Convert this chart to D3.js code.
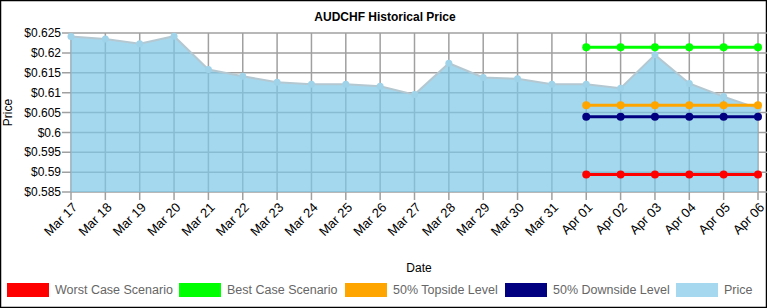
<!DOCTYPE html>
<html>
<head>
<meta charset="utf-8">
<script src="https://cdn.jsdelivr.net/npm/d3@7"></script>
<style>
  body { margin: 0; background: #fff; }
  svg { display: block; font-family: Arial, "Liberation Sans", sans-serif; }
</style>
</head>
<body>
<div id="chart"></div>
<script>
// data
const dates = ["Mar 17", "Mar 18", "Mar 19", "Mar 20", "Mar 21", "Mar 22", "Mar 23", "Mar 24",
               "Mar 25", "Mar 26", "Mar 27", "Mar 28", "Mar 29", "Mar 30", "Mar 31",
               "Apr 01", "Apr 02", "Apr 03", "Apr 04", "Apr 05", "Apr 06"];
const price = [0.6241, 0.6235, 0.6223, 0.6242, 0.6158, 0.6141, 0.6126, 0.6121,
               0.6121, 0.6116, 0.6095, 0.6174, 0.6138, 0.6135, 0.6121,
               0.6121, 0.6111, 0.6195, 0.6123, 0.6090, 0.6060];
const levelDates = ["Apr 01", "Apr 02", "Apr 03", "Apr 04", "Apr 05", "Apr 06"];
const worstCase = [0.5894, 0.5894, 0.5894, 0.5894, 0.5894, 0.5894];
const bestCase = [0.6214, 0.6214, 0.6214, 0.6214, 0.6214, 0.6214];
const topside = [0.6068, 0.6068, 0.6068, 0.6068, 0.6068, 0.6068];
const downside = [0.6039, 0.6039, 0.6039, 0.6039, 0.6039, 0.6039];
const yTicks = [0.585, 0.59, 0.595, 0.6, 0.605, 0.61, 0.615, 0.62, 0.625];

const W = 767, H = 308;
const margin = {top: 33, left: 71, right: 9, bottom: 116};
const width = W - margin.left - margin.right;
const height = H - margin.top - margin.bottom;

const svg = d3.select("#chart").append("svg")
  .attr("width", W).attr("height", H);

// outer frame
svg.append("rect")
  .attr("x", 0.5).attr("y", 0.5).attr("width", W - 1).attr("height", H - 1)
  .attr("fill", "none").attr("stroke", "#000").attr("stroke-width", 1.5);

svg.append("text")
  .attr("x", 385).attr("y", 21)
  .attr("text-anchor", "middle")
  .style("font-size", "12px").style("font-weight", "bold")
  .text("AUDCHF  Historical Price");

const g = svg.append("g").attr("transform", `translate(${margin.left},${margin.top})`);

const x = d3.scalePoint().domain(dates).range([0, width]);
const y = d3.scaleLinear().domain([0.585, 0.625]).range([height, 0]);

// grid
g.append("g").selectAll("line").data(yTicks).join("line")
  .attr("x1", -9).attr("x2", width + 9)
  .attr("y1", d => y(d)).attr("y2", d => y(d))
  .attr("stroke", "#a0a0a0").attr("stroke-width", 1.5);
g.append("g").selectAll("line").data(dates).join("line")
  .attr("x1", d => x(d)).attr("x2", d => x(d))
  .attr("y1", 0).attr("y2", height + 8)
  .attr("stroke", "#a0a0a0").attr("stroke-width", 1.5);

// y labels
g.append("g").selectAll("text").data(yTicks).join("text")
  .attr("x", -10).attr("y", d => y(d)).attr("dy", "0.35em")
  .attr("text-anchor", "end")
  .style("font-size", "12px")
  .text(d => "$" + d3.format("")(+d.toFixed(3)));

// x labels
g.append("g").selectAll("text").data(dates).join("text")
  .attr("transform", d => `translate(${x(d) + 4},${height + 13}) rotate(-45)`)
  .attr("text-anchor", "end")
  .attr("dy", "0.35em")
  .style("font-size", "13px")
  .text(d => d);

// price area
const area = d3.area()
  .x((d, i) => x(dates[i]))
  .y0(height)
  .y1(d => y(d));
g.append("path").datum(price)
  .attr("d", area)
  .attr("fill", "rgb(126,199,231)").attr("fill-opacity", 0.7);
g.append("path").datum(price)
  .attr("d", d3.line().x((d, i) => x(dates[i])).y(d => y(d)))
  .attr("fill", "none").attr("stroke", "#b4c8d2").attr("stroke-width", 2);
g.append("g").selectAll("circle").data(price).join("circle")
  .attr("cx", (d, i) => x(dates[i])).attr("cy", d => y(d)).attr("r", 3.5)
  .attr("fill", "#9fd3ea");

// scenario levels
const levels = [
  {name: "Worst Case Scenario", values: worstCase, color: "#ff0000"},
  {name: "Best Case Scenario", values: bestCase, color: "#00ff00"},
  {name: "50% Topside Level", values: topside, color: "#ffa500"},
  {name: "50% Downside Level", values: downside, color: "#000080"}
];
const levelLine = d3.line().x((d, i) => x(levelDates[i])).y(d => y(d));
levels.forEach(l => {
  g.append("path").datum(l.values)
    .attr("d", levelLine)
    .attr("fill", "none").attr("stroke", l.color).attr("stroke-width", 3);
  g.append("g").selectAll("circle").data(l.values).join("circle")
    .attr("cx", (d, i) => x(levelDates[i])).attr("cy", d => y(d)).attr("r", 4)
    .attr("fill", l.color);
});

// axis titles
svg.append("text")
  .attr("transform", `translate(12,${margin.top + height / 2}) rotate(-90)`)
  .attr("text-anchor", "middle")
  .style("font-size", "12px")
  .text("Price");
svg.append("text")
  .attr("x", 419).attr("y", 272)
  .attr("text-anchor", "middle")
  .style("font-size", "12px")
  .text("Date");

// legend
const legendItems = levels.concat([{name: "Price", color: "#a6d9ef"}]);
const legendX = [7, 179, 345, 505, 676];
const lg = svg.append("g").selectAll("g").data(legendItems).join("g")
  .attr("transform", (d, i) => `translate(${legendX[i]},283)`);
lg.append("rect")
  .attr("width", 42).attr("height", 14)
  .attr("fill", d => d.color);
lg.append("text")
  .attr("x", 48).attr("y", 7).attr("dy", "0.35em")
  .style("font-size", "12.5px").attr("fill", "#666")
  .text(d => d.name);
</script>
</body>
</html>
